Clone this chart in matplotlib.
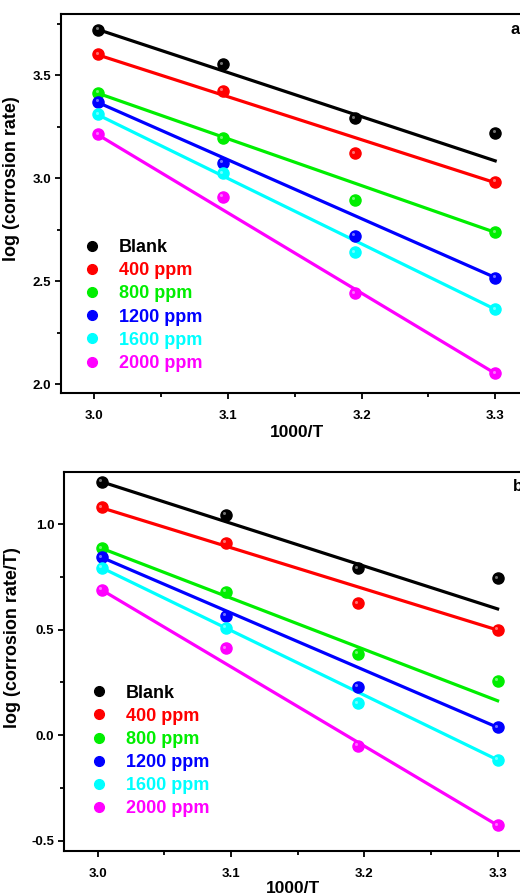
import numpy as np
import matplotlib
matplotlib.use('Agg')
import matplotlib.pyplot as plt
from matplotlib.lines import Line2D
from matplotlib.ticker import MultipleLocator
from matplotlib.transforms import ScaledTranslation

plt.rcParams['font.family'] = ['Liberation Sans', 'DejaVu Sans']
plt.rcParams['font.weight'] = 'bold'
plt.rcParams['axes.unicode_minus'] = False

# 1000/T for the four temperatures
inv_T = [3.003, 3.096, 3.195, 3.300]

labels = ['Blank', '400 ppm', '800 ppm', '1200 ppm', '1600 ppm', '2000 ppm']
colors = ['#000000', '#ff0000', '#00ee00', '#0000ff', '#00ffff', '#ff00ff']

# panel a: log (corrosion rate)
blank_a = [3.718, 3.552, 3.290, 3.220]
p400_a = [3.600, 3.422, 3.120, 2.983]
p800_a = [3.414, 3.193, 2.894, 2.737]
p1200_a = [3.371, 3.075, 2.721, 2.518]
p1600_a = [3.309, 3.023, 2.640, 2.364]
p2000_a = [3.212, 2.910, 2.441, 2.053]
# fitted lines, values at first and last 1000/T
fit_start_a = [3.720, 3.597, 3.411, 3.366, 3.306, 3.209]
fit_end_a = [3.084, 2.978, 2.737, 2.518, 2.364, 2.053]

# panel b: log (corrosion rate/T)
blank_b = [1.200, 1.043, 0.790, 0.743]
p400_b = [1.079, 0.911, 0.625, 0.498]
p800_b = [0.885, 0.679, 0.384, 0.258]
p1200_b = [0.842, 0.566, 0.230, 0.037]
p1600_b = [0.793, 0.509, 0.151, -0.117]
p2000_b = [0.688, 0.411, -0.052, -0.427]
fit_start_b = [1.200, 1.077, 0.885, 0.842, 0.793, 0.688]
fit_end_b = [0.598, 0.498, 0.163, 0.037, -0.117, -0.427]


def draw_panel(ax, series, fit_start, fit_end, ylim, yticks, ylabel, tag, legend_xy):
    fig = ax.figure
    # little white spot so the dots look like balls
    shine = ax.transData + ScaledTranslation(-1.2 / 72, 1.2 / 72, fig.dpi_scale_trans)
    handles = []
    for vals, fs, fe, c in zip(series, fit_start, fit_end, colors):
        ax.plot([inv_T[0], inv_T[-1]], [fs, fe], color=c, lw=2.3, zorder=2)
        ax.plot(inv_T, vals, 'o', color=c, ms=8, mec=c, zorder=3)
        ax.plot(inv_T, vals, 'o', color='white', alpha=0.45, ms=2.2, mew=0,
                transform=shine, zorder=4)
        handles.append(Line2D([], [], ls='none', marker='o', color=c, ms=7))

    ax.set_xlim(2.975, 3.325)
    ax.set_ylim(*ylim)
    ax.xaxis.set_major_locator(MultipleLocator(0.1))
    ax.xaxis.set_minor_locator(MultipleLocator(0.05))
    ax.set_yticks(yticks)
    ax.yaxis.set_minor_locator(MultipleLocator(0.25))
    ax.tick_params(which='both', direction='out', width=1.3, labelsize=9.5, top=False, right=False)
    ax.tick_params(which='major', length=4.3)
    ax.tick_params(which='minor', length=3)
    ax.tick_params(axis='x', pad=8)
    ax.tick_params(axis='y', pad=3)
    for s in ax.spines.values():
        s.set_linewidth(1.5)

    ax.set_xlabel('1000/T', fontsize=12.5, fontweight='bold')
    ax.set_ylabel(ylabel, fontsize=13, fontweight='bold')
    ax.text(0.972, 0.96, tag, transform=ax.transAxes, fontsize=12, fontweight='bold',
            ha='center', va='center')

    leg = ax.legend(handles, labels, loc='upper left', bbox_to_anchor=legend_xy,
                    frameon=False, borderpad=0, borderaxespad=0, handlelength=1.0,
                    handletextpad=1.0, labelspacing=0.34,
                    prop={'size': 13, 'weight': 'bold'}, labelcolor=colors)
    return leg


fig = plt.figure(figsize=(5.2, 8.93), dpi=100)

ax_a = fig.add_axes([0.1173, 0.5599, 0.8992, 0.4244])
draw_panel(ax_a, [blank_a, p400_a, p800_a, p1200_a, p1600_a, p2000_a],
           fit_start_a, fit_end_a, (1.958, 3.796), [2.0, 2.5, 3.0, 3.5],
           'log (corrosion rate)', 'a', (0.046, 0.406))
ax_a.xaxis.set_label_coords(0.505, -0.085)
ax_a.yaxis.set_label_coords(-0.088, 0.565)

ax_b = fig.add_axes([0.1237, 0.0474, 0.8973, 0.4244])
draw_panel(ax_b, [blank_b, p400_b, p800_b, p1200_b, p1600_b, p2000_b],
           fit_start_b, fit_end_b, (-0.547, 1.248), [-0.5, 0.0, 0.5, 1.0],
           'log (corrosion rate/T)', 'b', (0.055, 0.438))
ax_b.xaxis.set_label_coords(0.49, -0.08)
ax_b.yaxis.set_label_coords(-0.093, 0.561)

fig.savefig('out.png', dpi=100)
